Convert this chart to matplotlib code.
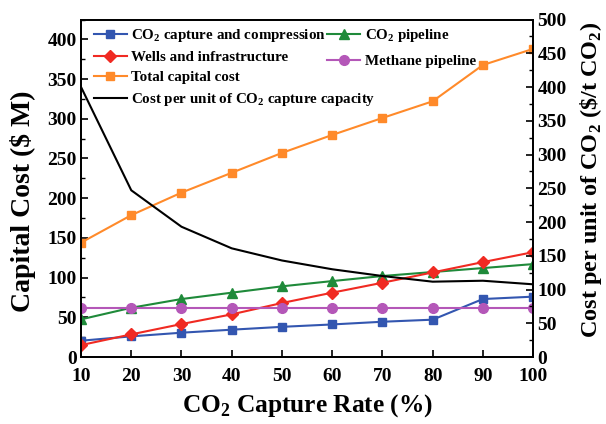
import matplotlib.pyplot as plt
from matplotlib.ticker import MultipleLocator

plt.rcParams['font.family'] = ['Liberation Serif', 'DejaVu Serif']
plt.rcParams['font.weight'] = 'bold'
plt.rcParams['mathtext.fontset'] = 'custom'
plt.rcParams['mathtext.rm'] = 'Liberation Serif:bold'
plt.rcParams['mathtext.bf'] = 'Liberation Serif:bold'

# Donnees
rate = [10, 20, 30, 40, 50, 60, 70, 80, 90, 100]
capture = [20.5, 26, 30.6, 34.4, 38, 41, 44.4, 47, 73, 76]
pipeline = [47.4, 62, 73, 81, 89, 95.6, 102, 107, 112, 117]
wells = [15, 28.5, 41.5, 53.7, 68, 81, 93.5, 106.5, 119.5, 132]
methane = [62, 62, 62, 62, 62, 62, 62, 62, 62, 62]
total = [144, 178.6, 207, 232, 257, 279.6, 301, 322, 367.7, 388]
cost_unit = [400, 247, 193, 161, 143, 130, 120, 111.6, 113, 107.7]

fig = plt.figure(figsize=(6.06, 4.24), dpi=100)
ax = fig.add_axes([0.1337, 0.158, 0.746, 0.796])
ax2 = ax.twinx()

lw = 1.5
h1, = ax.plot(rate, capture, color='#3356b0', marker='s', ms=6, lw=lw)
h2, = ax.plot(rate, pipeline, color='#1f8a3a', marker='^', ms=7, lw=lw)
h3, = ax.plot(rate, wells, color='#f02a22', marker='D', ms=6, lw=lw)
h4, = ax.plot(rate, methane, color='#b457b8', marker='o', ms=7, lw=lw)
h5, = ax.plot(rate, total, color='#ff8a2a', marker='s', ms=6, lw=lw)
h6, = ax2.plot(rate, cost_unit, color='black', lw=lw)

ax.set_xlim(10, 100)
ax.set_ylim(0, 425)
ax2.set_ylim(0, 500)
ax.set_xticks(rate)
ax.yaxis.set_major_locator(MultipleLocator(50))
ax.yaxis.set_minor_locator(MultipleLocator(25))
ax2.yaxis.set_major_locator(MultipleLocator(50))
ax2.yaxis.set_minor_locator(MultipleLocator(25))

for a in (ax, ax2):
    a.tick_params(direction='in', labelsize=14, width=1.2, length=5)
    a.tick_params(which='minor', direction='in', width=1.0, length=3)
    for s in a.spines.values():
        s.set_linewidth(1.3)
ax.tick_params(axis='x', pad=8)
ax.tick_params(axis='y', pad=3)
ax2.tick_params(axis='y', pad=3)

ax.set_xlabel('CO$_2$ Capture Rate (%)', fontsize=18.3, fontweight='bold', labelpad=5)
ax.set_ylabel('Capital Cost ($ M)', fontsize=20, fontweight='bold')
ax2.set_ylabel('Cost per unit of CO$_2$ (\\$/t CO$_2$)', fontsize=17.5, fontweight='bold')
ax.yaxis.set_label_coords(-0.1, 0.462)
ax2.yaxis.set_label_coords(1.1, 0.524)

leg_font = {'size': 10.8, 'weight': 'bold'}
leg1 = ax.legend([h1, h3, h5, h6],
                 ['CO$_2$ capture and compression', 'Wells and infrastructure',
                  'Total capital cost', 'Cost per unit of CO$_2$ capture capacity'],
                 loc='upper left', frameon=False, prop=leg_font,
                 handlelength=2.2, handletextpad=0.3, labelspacing=0.45,
                 borderaxespad=0.0, borderpad=0.0, bbox_to_anchor=(0.028, 0.978))
ax.add_artist(leg1)
ax.legend([h2, h4], ['CO$_2$ pipeline', 'Methane pipeline'],
          loc='upper left', frameon=False, prop=leg_font,
          handlelength=2.2, handletextpad=0.3, labelspacing=0.7,
          borderaxespad=0.0, borderpad=0.0, bbox_to_anchor=(0.545, 0.978))

fig.savefig('out.png', dpi=100)
